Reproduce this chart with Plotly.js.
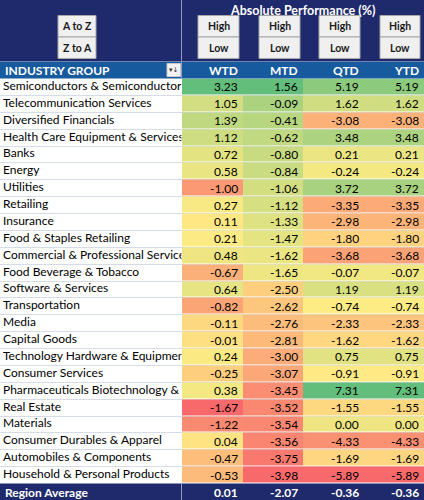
<!DOCTYPE html>
<html><head><meta charset="utf-8">
<script src="https://cdn.plot.ly/plotly-3.0.1.min.js"></script>
<style>html,body{margin:0;padding:0;background:#fff}#chart{width:424px;height:500px}</style>
</head><body><div id="chart"></div>
<script>
// ---------- data ----------
const industryGroups = [
  'Semiconductors & Semiconductor','Telecommunication Services','Diversified Financials',
  'Health Care Equipment & Services','Banks','Energy','Utilities','Retailing','Insurance',
  'Food & Staples Retailing','Commercial & Professional Service','Food Beverage & Tobacco',
  'Software & Services','Transportation','Media','Capital Goods','Technology Hardware & Equipmen',
  'Consumer Services','Pharmaceuticals Biotechnology & L','Real Estate','Materials',
  'Consumer Durables & Apparel','Automobiles & Components','Household & Personal Products'
];
const periods = ['WTD','MTD','QTD','YTD'];
const wtd = [3.23,1.05,1.39,1.12,0.72,0.58,-1.00,0.27,0.11,0.21,0.48,-0.67,0.64,-0.82,-0.11,-0.01,0.24,-0.25,0.38,-1.67,-1.22,0.04,-0.47,-0.53];
const mtd = [1.56,-0.09,-0.41,-0.62,-0.80,-0.84,-1.06,-1.12,-1.33,-1.47,-1.62,-1.65,-2.50,-2.62,-2.76,-2.81,-3.00,-3.07,-3.45,-3.52,-3.54,-3.56,-3.75,-3.98];
const qtd = [5.19,1.62,-3.08,3.48,0.21,-0.24,3.72,-3.35,-2.98,-1.80,-3.68,-0.07,1.19,-0.74,-2.33,-1.62,0.75,-0.91,7.31,-1.55,0.00,-4.33,-1.69,-5.89];
const ytd = [5.19,1.62,-3.08,3.48,0.21,-0.24,3.72,-3.35,-2.98,-1.80,-3.68,-0.07,1.19,-0.74,-2.33,-1.62,0.75,-0.91,7.31,-1.55,0.00,-4.33,-1.69,-5.89];
const regionAverage = [0.01,-2.07,-0.36,-0.36];
const footerLabel = 'Region Average';
const nameHeader = 'INDUSTRY GROUP';
const tableTitle = 'Absolute Performance (%)';
const sortButtons = ['A to Z','Z to A'];
const rankButtons = ['High','Low'];

// ---------- layout helpers ----------
const W = 424, H = 500;
const px = x => x / W;
const py = y => 1 - y / H;
const NAVY = '#1F2A6C', HEADBLUE = '#175A9E';
const FONT = 'Lato, "Open Sans", sans-serif';
const NAME_W = 181.5, BODY_TOP = 78.5, BODY_BOT = 483.5;

const columns = [wtd, mtd, qtd, ytd];
// Excel-style 3-colour scale per column: min -> 0, median -> 0.5, max -> 1
function median(a){const s=[...a].sort((p,q)=>p-q);const n=s.length;return n%2?s[(n-1)/2]:(s[n/2-1]+s[n/2])/2;}
const scaled = columns.map(col => {
  const mn = Math.min(...col), mx = Math.max(...col), md = median(col);
  return col.map(v => v <= md ? 0.5*(v-mn)/(md-mn) : 0.5 + 0.5*(v-md)/(mx-md));
});
const z = industryGroups.map((_, r) => columns.map((_, c) => scaled[c][r]));

const traces = [
  {
    type: 'heatmap', x: periods, y: industryGroups, z: z,
    zmin: 0, zmax: 1, showscale: false, ygap: 1, hoverinfo: 'skip',
    colorscale: [[0,'#F8696B'],[0.5,'#FFEB84'],[1,'#63BE7B']],
    xaxis: 'x', yaxis: 'y'
  },
  {
    type: 'scatter', mode: 'text', x: industryGroups.map(() => 3), y: industryGroups,
    text: industryGroups, textposition: 'middle right', cliponaxis: true,
    textfont: {family: FONT, size: 12, color: '#000'}, hoverinfo: 'skip',
    xaxis: 'x2', yaxis: 'y'
  }
];

const shapes = [];
const annotations = [];
const rect = (x0,y0,x1,y1,fill,lc,lw,layer) => shapes.push({type:'rect',xref:'paper',yref:'paper',
  x0:px(x0),x1:px(x1),y0:py(y0),y1:py(y1),fillcolor:fill,line:{color:lc||fill,width:lw||0},layer:layer||'above'});
const line = (x0,y0,x1,y1,c,w) => shapes.push({type:'line',xref:'paper',yref:'paper',
  x0:px(x0),x1:px(x1),y0:py(y0),y1:py(y1),line:{color:c,width:w||1},layer:'above'});

// top band, header row, footer
rect(0,0,W,61.5,NAVY);
rect(0,61.5,W,BODY_TOP,HEADBLUE);
rect(0,BODY_BOT,W,H,NAVY);
line(NAME_W,0,NAME_W,BODY_TOP,'#8F9DC2',1);
line(NAME_W,BODY_BOT,NAME_W,H,'#8F9DC2',1);
line(0,61.5,W,61.5,'#6F83B3',1);

// buttons
function button(x0,y0,x1,y1,label,bold){
  rect(x0,y0,x1,y1,'#F0F0F0','#A6A6A6',1);
  annotations.push({xref:'paper',yref:'paper',x:px((x0+x1)/2),y:py((y0+y1)/2),xanchor:'center',yanchor:'middle',
    showarrow:false,text:bold?'<b>'+label+'</b>':label,font:{family:FONT,size:10.5,color:'#1A1A1A'}});
}
button(58,15.5,96,37,sortButtons[0],true);
button(58,37,96,58.5,sortButtons[1],true);
const btnX = [[198,239],[259,300],[319,360],[380,420]];
btnX.forEach(([a,b]) => { button(a,15.5,b,37,rankButtons[0],true); button(a,37,b,58.5,rankButtons[1],true); });

// filter icon
rect(167,63.5,180.5,76.5,'#F2F2F2','#C9C9C9',1);
annotations.push({xref:'paper',yref:'paper',x:px(173.75),y:py(70),xanchor:'center',yanchor:'middle',showarrow:false,
  text:'▾↓',font:{family:'DejaVu Sans',size:7,color:'#333'}});

// title and header labels
annotations.push({xref:'paper',yref:'paper',x:px(302.5),y:py(10),xanchor:'center',yanchor:'middle',showarrow:false,
  text:'<b>'+tableTitle+'</b>',font:{family:FONT,size:12.5,color:'#fff'}});
annotations.push({xref:'paper',yref:'paper',x:px(3),y:py(70.5),xanchor:'left',yanchor:'middle',showarrow:false,
  text:'<b>'+nameHeader+'</b>',font:{family:FONT,size:12,color:'#fff'}});
periods.forEach((p,i) => annotations.push({xref:'x',yref:'paper',x:i+0.5,xshift:-3,y:py(70.5),xanchor:'right',yanchor:'middle',
  showarrow:false,text:'<b>'+p+'</b>',font:{family:FONT,size:12,color:'#fff'}}));

// cell values
columns.forEach((col,c) => col.forEach((v,r) => annotations.push({xref:'x',yref:'y',x:c+0.5,xshift:-3,y:r,
  xanchor:'right',yanchor:'middle',showarrow:false,text:v.toFixed(2),font:{family:FONT,size:12,color:'#000'}})));

// footer
annotations.push({xref:'paper',yref:'paper',x:px(3),y:py(492),xanchor:'left',yanchor:'middle',showarrow:false,
  text:'<b>'+footerLabel+'</b>',font:{family:FONT,size:12,color:'#fff'}});
regionAverage.forEach((v,c) => annotations.push({xref:'x',yref:'paper',x:c+0.5,xshift:-3,y:py(492),xanchor:'right',
  yanchor:'middle',showarrow:false,text:'<b>'+v.toFixed(2)+'</b>',font:{family:FONT,size:12,color:'#fff'}}));

const layout = {
  width: W, height: H, margin: {l:0,r:0,t:0,b:0,pad:0},
  paper_bgcolor: '#fff', plot_bgcolor: '#fff', showlegend: false,
  xaxis: {domain:[px(182),1], range:[-0.5,3.5], type:'category', showgrid:false, zeroline:false, showticklabels:false, ticks:'', fixedrange:true},
  xaxis2: {domain:[0,px(NAME_W)], range:[0,NAME_W], anchor:'y', showgrid:false, zeroline:false, showticklabels:false, ticks:'', fixedrange:true},
  yaxis: {domain:[py(BODY_BOT),py(BODY_TOP)], type:'category', range:[industryGroups.length-0.5,-0.5],
    showgrid:true, gridcolor:'#D6DCE7', gridwidth:1, tickson:'boundaries', zeroline:false, showticklabels:false, ticks:'', fixedrange:true},
  shapes: shapes, annotations: annotations
};

Plotly.newPlot('chart', traces, layout, {staticPlot:true, displayModeBar:false});
</script></body></html>
